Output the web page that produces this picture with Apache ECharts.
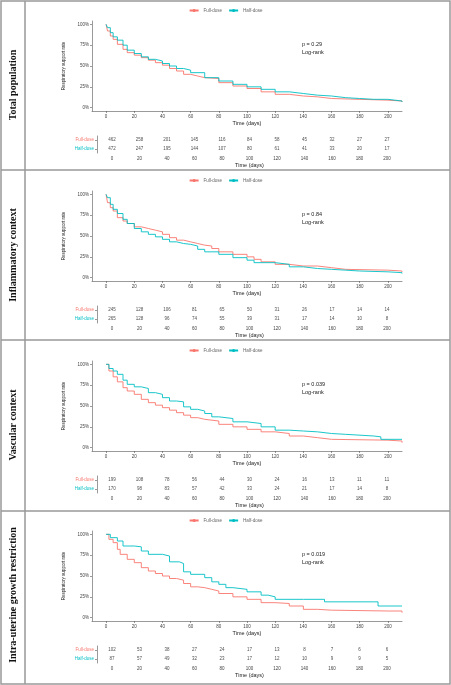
<!DOCTYPE html>
<html><head><meta charset="utf-8">
<script src="https://cdn.jsdelivr.net/npm/echarts@6/dist/echarts.min.js"></script>
<style>html,body{margin:0;padding:0;background:#fff}#c{width:451px;height:685px}</style>
</head><body><div id="c"></div>
<script>
const panelTitles = ['Total population','Inflammatory context','Vascular context','Intra-uterine growth restriction'];
const pValues = ['p = 0.29','p = 0.84','p = 0.039','p = 0.019'];
const tableTimes = [0,20,40,60,80,100,120,140,160,180,200];
const xTicks = [0,20,40,60,80,100,120,140,160,180,200];
const yTicks = [0,0.25,0.5,0.75,1];

const full1 = [[0,1],[1,0.92],[3,0.86],[5,0.82],[8,0.76],[12,0.70],[15,0.66],[20,0.63],[25,0.60],[30,0.57],[35,0.54],[40,0.51],[45,0.47],[50,0.44],[55,0.40],[60,0.38],[65,0.36],[70,0.35],[80,0.30],[90,0.26],[100,0.23],[110,0.19],[120,0.16],[130,0.14],[140,0.13],[150,0.11],[160,0.09],[200,0.08],[210,0.07]];
const half1 = [[0,1],[1,0.96],[3,0.90],[5,0.85],[8,0.81],[12,0.75],[15,0.69],[20,0.65],[25,0.61],[30,0.58],[35,0.56],[40,0.53],[45,0.50],[50,0.47],[55,0.45],[60,0.42],[70,0.36],[80,0.32],[90,0.28],[100,0.25],[110,0.22],[120,0.19],[130,0.17],[140,0.15],[150,0.14],[160,0.12],[170,0.11],[180,0.10],[190,0.10],[200,0.08],[210,0.07]];
const full2 = [[0,1],[1,0.90],[3,0.84],[5,0.80],[8,0.72],[12,0.68],[15,0.65],[20,0.61],[25,0.59],[30,0.57],[35,0.55],[40,0.52],[45,0.48],[50,0.45],[55,0.43],[60,0.41],[65,0.39],[70,0.38],[75,0.35],[80,0.31],[90,0.28],[100,0.25],[105,0.22],[110,0.19],[120,0.16],[130,0.14],[140,0.14],[150,0.12],[160,0.10],[170,0.09],[200,0.08],[210,0.07]];
const half2 = [[0,1],[1,0.96],[3,0.88],[5,0.82],[8,0.77],[12,0.70],[15,0.65],[20,0.59],[25,0.55],[30,0.52],[35,0.49],[40,0.46],[45,0.43],[50,0.41],[55,0.40],[60,0.38],[65,0.34],[70,0.31],[80,0.28],[90,0.24],[100,0.21],[105,0.18],[120,0.16],[130,0.13],[140,0.11],[150,0.10],[160,0.09],[170,0.08],[180,0.07],[200,0.06],[210,0.05]];
const full3 = [[0,1],[2,0.92],[5,0.85],[8,0.79],[12,0.72],[15,0.68],[20,0.64],[25,0.58],[30,0.54],[35,0.51],[40,0.48],[45,0.45],[50,0.42],[55,0.39],[60,0.36],[65,0.34],[70,0.32],[80,0.28],[90,0.25],[100,0.22],[110,0.19],[120,0.17],[130,0.14],[140,0.12],[150,0.10],[160,0.09],[200,0.08],[210,0.06]];
const half3 = [[0,1],[2,0.95],[5,0.92],[8,0.88],[12,0.81],[15,0.76],[20,0.73],[25,0.71],[30,0.66],[35,0.64],[40,0.60],[45,0.56],[50,0.55],[55,0.49],[60,0.46],[65,0.44],[70,0.41],[75,0.37],[80,0.35],[90,0.31],[100,0.29],[110,0.25],[120,0.21],[130,0.20],[140,0.19],[150,0.17],[160,0.16],[170,0.14],[190,0.13],[195,0.10],[210,0.10]];
const full4 = [[0,1],[2,0.94],[5,0.90],[8,0.82],[10,0.76],[15,0.70],[20,0.66],[25,0.60],[30,0.56],[35,0.53],[40,0.50],[45,0.47],[50,0.45],[55,0.41],[60,0.37],[65,0.36],[70,0.34],[75,0.32],[80,0.29],[90,0.25],[100,0.22],[110,0.18],[120,0.17],[130,0.14],[140,0.10],[150,0.09],[160,0.08],[200,0.08],[210,0.06]];
const half4 = [[0,1],[3,0.96],[8,0.92],[12,0.86],[20,0.85],[25,0.80],[30,0.76],[40,0.74],[45,0.67],[52,0.65],[55,0.55],[60,0.52],[70,0.48],[75,0.43],[80,0.40],[85,0.36],[90,0.34],[100,0.31],[110,0.27],[115,0.25],[120,0.22],[140,0.22],[155,0.19],[190,0.19],[193,0.14],[210,0.14]];

const riskFull1 = [462,258,201,145,116,84,58,45,32,27,27];
const riskHalf1 = [472,247,195,144,107,80,61,41,33,20,17];
const riskFull2 = [245,128,106,81,65,50,31,26,17,14,14];
const riskHalf2 = [265,128,96,74,55,39,31,17,14,10,8];
const riskFull3 = [199,108,78,56,44,30,24,16,13,11,11];
const riskHalf3 = [170,98,83,57,42,33,24,21,17,14,8];
const riskFull4 = [102,53,38,27,24,17,13,8,7,6,6];
const riskHalf4 = [87,57,49,32,23,17,12,10,9,9,5];

const curves = [[full1,half1],[full2,half2],[full3,half3],[full4,half4]];
const risks = [[riskFull1,riskHalf1],[riskFull2,riskHalf2],[riskFull3,riskHalf3],[riskFull4,riskHalf4]];
const offsets = [0,170,340,510];
const RED = '#F8766D', CYAN = '#00BFC4', AX = '#555';
const F = 'Liberation Sans, Arial, sans-serif';

const grid=[], xAxis=[], yAxis=[], series=[], legend=[], graphic=[];
offsets.forEach((o,i)=>{
  grid.push({left:92, top:o+21, width:310, height:90});
  grid.push({left:97, top:o+136, width:305, height:17});
  const g1 = 2*i, g2 = 2*i+1;
  xAxis.push({type:'value', gridIndex:g1, min:-10, max:210, name:'Time (days)', nameLocation:'middle', nameGap:9,
    nameTextStyle:{fontSize:5.5,color:'#222',fontFamily:F},
    axisLine:{onZero:false,lineStyle:{color:AX,width:0.6}}, axisTick:{length:2,customValues:xTicks,lineStyle:{color:AX,width:0.6}},
    axisLabel:{fontSize:4.5,color:'#444',margin:3,customValues:xTicks,fontFamily:F}, splitLine:{show:false}});
  yAxis.push({type:'value', gridIndex:g1, min:-0.04, max:1.04, name:'Respiratory support rate', nameLocation:'middle', nameGap:16,
    nameTextStyle:{fontSize:4.5,color:'#222',fontFamily:F},
    axisLine:{show:true,onZero:false,lineStyle:{color:AX,width:0.6}}, axisTick:{show:true,length:2,customValues:yTicks,lineStyle:{color:AX,width:0.6}},
    axisLabel:{fontSize:4.5,color:'#444',margin:3,customValues:yTicks,formatter:v=>Math.round(v*100)+'%',fontFamily:F}, splitLine:{show:false}});
  xAxis.push({type:'value', gridIndex:g2, min:-11, max:211, name:'Time (days)', nameLocation:'middle', nameGap:9,
    nameTextStyle:{fontSize:5.5,color:'#222',fontFamily:F},
    axisLine:{onZero:false,lineStyle:{color:AX,width:0.6}}, axisTick:{length:2,customValues:tableTimes,lineStyle:{color:AX,width:0.6}},
    axisLabel:{fontSize:4.5,color:'#444',margin:3,customValues:tableTimes,fontFamily:F}, splitLine:{show:false}});
  yAxis.push({type:'category', gridIndex:g2, data:['Half-dose','Full-dose'],
    axisLine:{show:true,onZero:false,lineStyle:{color:AX,width:0.6}}, axisTick:{show:true,length:2,alignWithLabel:true,lineStyle:{color:AX,width:0.6}},
    axisLabel:{fontSize:4.5,margin:3,fontFamily:F,formatter:v=>v==='Full-dose'?'{r|'+v+'}':'{c|'+v+'}',
      rich:{r:{color:RED,fontSize:4.5},c:{color:CYAN,fontSize:4.5}}}, splitLine:{show:false}});
  const names=['Full-dose','Half-dose'], cols=[RED,CYAN];
  [0,1].forEach(k=>{
    series.push({type:'line', name:names[k], xAxisIndex:g1, yAxisIndex:g1, step:'end', data:curves[i][k],
      showSymbol:false, symbol:'none', lineStyle:{color:cols[k],width:0.9}, itemStyle:{color:cols[k]}, silent:true, animation:false});
    series.push({type:'scatter', xAxisIndex:g2, yAxisIndex:g2, symbolSize:0, silent:true, animation:false,
      data:risks[i][k].map((v,j)=>[tableTimes[j], names[k], v]),
      label:{show:true, position:'inside', formatter:p=>p.value[2], fontSize:4.5, color:'#222', fontFamily:F}});
  });
  legend.push({top:o+8, left:'center', data:names, itemWidth:9, itemHeight:4, itemGap:6,
    textStyle:{fontSize:4.5,color:'#666',fontFamily:F}, padding:0});
  graphic.push({type:'text', left:302, top:o+40, z:10, style:{text:pValues[i]+'\nLog-rank', fontSize:5.5, lineHeight:8, fill:'#222', font:'5.5px '+F}});
  graphic.push({type:'text', x:13, y:o+85, z:10, rotation:Math.PI/2, style:{text:panelTitles[i], align:'center', verticalAlign:'middle',
    font:'bold 10px "Liberation Serif", "DejaVu Serif", serif', fill:'#111'}});
});
graphic.push({type:'rect', shape:{x:1,y:1,width:449,height:683}, style:{fill:'none',stroke:'#999',lineWidth:1.5}});
graphic.push({type:'line', shape:{x1:25,y1:1,x2:25,y2:684}, style:{stroke:'#999',lineWidth:1.5}});
[170,340,511].forEach(y=>graphic.push({type:'line', shape:{x1:1,y1:y,x2:450,y2:y}, style:{stroke:'#999',lineWidth:1.5}}));

const chart = echarts.init(document.getElementById('c'));
chart.setOption({animation:false, grid, xAxis, yAxis, series, legend, graphic});
</script></body></html>
